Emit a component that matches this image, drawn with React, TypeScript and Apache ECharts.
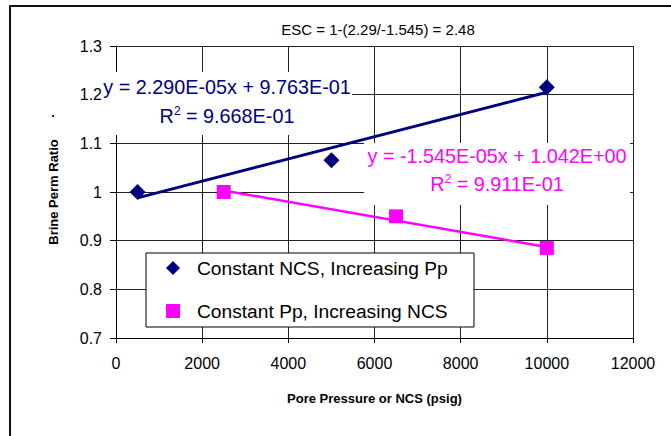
import React, { useEffect, useRef } from "react";
import * as echarts from "echarts";

// Data
const ncsPoints: [number, number][] = [
  [500, 1.0],
  [5000, 1.065],
  [10000, 1.215],
];
const ppPoints: [number, number][] = [
  [2500, 1.0],
  [6500, 0.95],
  [10000, 0.885],
];
const ncsTrend: [number, number][] = [
  [500, 0.988],
  [10000, 1.205],
];
const ppTrend: [number, number][] = [
  [2500, 1.003],
  [10000, 0.887],
];
const seriesNames = ["Constant NCS, Increasing Pp", "Constant Pp, Increasing NCS"];
const titleText = "ESC = 1-(2.29/-1.545) = 2.48";
const xTitle = "Pore Pressure or NCS (psig)";
const yTitle = "Brine Perm Ratio";
const ncsEq = ["y = 2.290E-05x + 9.763E-01", "9.668E-01"];
const ppEq = ["y = -1.545E-05x + 1.042E+00", "9.911E-01"];

const FONT = "'Liberation Sans', Arial, sans-serif";
const NAVY = "#000080";
const MAGENTA = "#FF00FF";

export default function App() {
  const ref = useRef<HTMLDivElement>(null);
  useEffect(() => {
    if (!ref.current) return;
    const chart = echarts.init(ref.current, null, { renderer: "svg" });
    const eqFont = 19.8;
    chart.setOption({
      animation: false,
      backgroundColor: "#fff",
      textStyle: { fontFamily: FONT },
      title: {
        text: titleText,
        left: 373,
        top: 17,
        textAlign: "center",
        textStyle: { fontFamily: FONT, fontSize: 15, fontWeight: "normal", color: "#000" },
      },
      grid: { left: 116, top: 46, right: 38, bottom: 98, show: false },
      legend: {
        orient: "vertical",
        left: 166,
        top: 257,
        itemWidth: 14,
        itemHeight: 14,
        itemGap: 21,
        padding: 0,
        z: 6,
        data: [
          { name: seriesNames[0], icon: "diamond" },
          { name: seriesNames[1], icon: "rect" },
        ],
        textStyle: { fontFamily: FONT, fontSize: 19.2, color: "#000", lineHeight: 22, padding: [0, 0, 0, 12] },
      },
      xAxis: {
        type: "value",
        min: 0,
        max: 12000,
        interval: 2000,
        name: xTitle,
        nameLocation: "middle",
        nameGap: 54,
        nameTextStyle: { fontFamily: FONT, fontSize: 13, fontWeight: "bold", color: "#000" },
        axisLine: { show: true, onZero: false, lineStyle: { color: "#000", width: 1 } },
        axisTick: { show: true, inside: false, length: 5, lineStyle: { color: "#000" } },
        axisLabel: {
          fontFamily: FONT,
          fontSize: 16,
          color: "#000",
          margin: 17,
          formatter: (v: number) => String(v),
        },
        splitLine: { show: true, lineStyle: { color: "#222", width: 1 } },
      },
      yAxis: {
        type: "value",
        min: 0.7,
        max: 1.3,
        interval: 0.1,
        name: yTitle,
        nameLocation: "middle",
        nameGap: 56,
        nameRotate: 90,
        nameTextStyle: { fontFamily: FONT, fontSize: 13, fontWeight: "bold", color: "#000" },
        axisLine: { show: true, onZero: false, lineStyle: { color: "#000", width: 1 } },
        axisTick: { show: true, inside: false, length: 6, lineStyle: { color: "#000" } },
        axisLabel: { fontFamily: FONT, fontSize: 16, color: "#000", margin: 14 },
        splitLine: { show: true, lineStyle: { color: "#222", width: 1 } },
      },
      series: [
        {
          name: "ncsTrend",
          type: "line",
          data: ncsTrend,
          showSymbol: false,
          lineStyle: { color: NAVY, width: 3 },
          itemStyle: { color: NAVY },
          z: 2,
          silent: true,
        },
        {
          name: "ppTrend",
          type: "line",
          data: ppTrend,
          showSymbol: false,
          lineStyle: { color: MAGENTA, width: 2.5 },
          itemStyle: { color: MAGENTA },
          z: 2,
          silent: true,
        },
        {
          name: seriesNames[0],
          type: "scatter",
          data: ncsPoints,
          symbol: "diamond",
          symbolSize: 16,
          itemStyle: { color: NAVY, opacity: 1 },
          z: 3,
        },
        {
          name: seriesNames[1],
          type: "scatter",
          data: ppPoints,
          symbol: "rect",
          symbolSize: 14,
          itemStyle: { color: MAGENTA, opacity: 1 },
          z: 3,
        },
      ],
      graphic: [
        {
          type: "rect",
          z: 100,
          shape: { x: 10, y: 6, width: 700, height: 500 },
          style: { fill: "none", stroke: "#111", lineWidth: 2 },
          silent: true,
        },
        // legend box
        {
          type: "rect",
          z: 5,
          shape: { x: 146, y: 253, width: 328, height: 74 },
          style: { fill: "#fff", stroke: "#000", lineWidth: 1 },
          silent: true,
        },
        // navy equation label
        {
          type: "rect",
          z: 5,
          shape: { x: 102, y: 72, width: 250, height: 63 },
          style: { fill: "#fff" },
          silent: true,
        },
        {
          type: "text",
          z: 6,
          x: 227,
          y: 87,
          style: { text: ncsEq[0], fill: NAVY, font: `${eqFont}px ${FONT}`, align: "center", verticalAlign: "middle" },
        },
        {
          type: "text",
          z: 6,
          x: 227,
          y: 115,
          style: {
            text: "{a|R}{s|2}{a| = " + ncsEq[1] + "}",
            fill: NAVY,
            align: "center",
            verticalAlign: "middle",
            rich: {
              a: { fontFamily: FONT, fontSize: eqFont, fill: NAVY, verticalAlign: "bottom" },
              s: { fontFamily: FONT, fontSize: 12, fill: NAVY, verticalAlign: "top", padding: [0, 0, 9, 0] },
            },
          },
        },
        // magenta equation label
        {
          type: "rect",
          z: 5,
          shape: { x: 364, y: 143, width: 266, height: 62 },
          style: { fill: "#fff" },
          silent: true,
        },
        {
          type: "text",
          z: 6,
          x: 497,
          y: 156,
          style: { text: ppEq[0], fill: MAGENTA, font: `${eqFont}px ${FONT}`, align: "center", verticalAlign: "middle" },
        },
        {
          type: "text",
          z: 6,
          x: 497,
          y: 183,
          style: {
            text: "{a|R}{s|2}{a| = " + ppEq[1] + "}",
            fill: MAGENTA,
            align: "center",
            verticalAlign: "middle",
            rich: {
              a: { fontFamily: FONT, fontSize: eqFont, fill: MAGENTA, verticalAlign: "bottom" },
              s: { fontFamily: FONT, fontSize: 12, fill: MAGENTA, verticalAlign: "top", padding: [0, 0, 9, 0] },
            },
          },
        },
        {
          type: "text",
          z: 6,
          x: 53,
          y: 112,
          style: { text: ".", fill: "#000", font: `bold 13px ${FONT}`, align: "center", verticalAlign: "middle" },
        },
      ],
    });
    return () => chart.dispose();
  }, []);
  return (
    <div
      ref={ref}
      style={{ position: "fixed", left: 0, top: 0, width: 671, height: 436, background: "#fff" }}
    />
  );
}
